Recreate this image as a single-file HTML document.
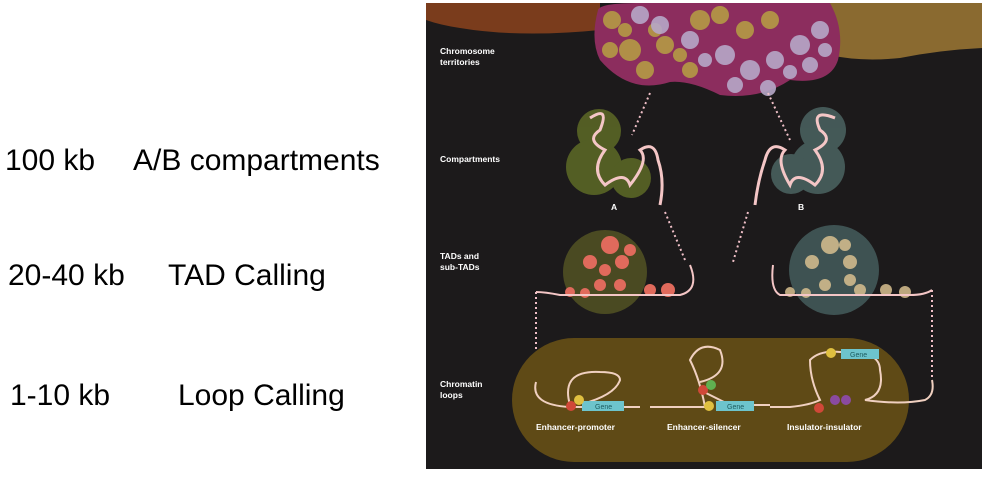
<!DOCTYPE html>
<html><head><meta charset="utf-8"><style>
body{margin:0;width:985px;height:477px;background:#fff;overflow:hidden;position:relative;font-family:"Liberation Sans",sans-serif}
.l{position:absolute;font-size:30px;color:#000;white-space:pre;line-height:1}
</style></head><body>
<div class="l" style="left:5px;top:146px">100 kb</div><div class="l" style="left:133px;top:146px">A/B compartments</div>
<div class="l" style="left:8px;top:261px">20-40 kb</div><div class="l" style="left:168px;top:261px">TAD Calling</div>
<div class="l" style="left:10px;top:381px">1-10 kb</div><div class="l" style="left:178px;top:381px">Loop Calling</div>
<svg style="position:absolute;left:0;top:0" width="985" height="477">
<rect x="426" y="3" width="556" height="466" fill="#1c1a1b"/>
<path d="M426 3 H600 V30 Q520 38 460 28 Q440 25 426 20Z" fill="#7a3c1c"/>
<path d="M830 3 H982 V48 Q940 50 900 58 Q860 62 830 55Z" fill="#8a6a30"/>
<path d="M598 10 Q600 3 640 3 H830 Q845 30 838 60 Q830 85 790 80 Q760 100 720 95 Q690 80 670 82 Q630 95 600 60 Q590 40 598 10Z" fill="#8c2d5e"/>
<g fill="#b59a45" opacity=".9"><circle cx="612" cy="20" r="9"/><circle cx="630" cy="50" r="11"/><circle cx="645" cy="70" r="9"/><circle cx="610" cy="50" r="8"/><circle cx="665" cy="45" r="9"/><circle cx="700" cy="20" r="10"/><circle cx="720" cy="15" r="9"/><circle cx="745" cy="30" r="9"/><circle cx="770" cy="20" r="9"/><circle cx="690" cy="70" r="8"/><circle cx="625" cy="30" r="7"/><circle cx="680" cy="55" r="7"/><circle cx="655" cy="30" r="7"/></g>
<g fill="#b7a8c8" opacity=".9"><circle cx="640" cy="15" r="9"/><circle cx="660" cy="25" r="9"/><circle cx="690" cy="40" r="9"/><circle cx="725" cy="55" r="10"/><circle cx="750" cy="70" r="10"/><circle cx="775" cy="60" r="9"/><circle cx="800" cy="45" r="10"/><circle cx="820" cy="30" r="9"/><circle cx="810" cy="65" r="8"/><circle cx="735" cy="85" r="8"/><circle cx="768" cy="88" r="8"/><circle cx="790" cy="72" r="7"/><circle cx="825" cy="50" r="7"/><circle cx="705" cy="60" r="7"/></g>
<g stroke="#f0c0c8" stroke-width="2" stroke-dasharray="2 3" fill="none"><path d="M650 93 L632 135"/><path d="M768 93 L790 140"/><path d="M665 212 L685 260"/><path d="M748 212 L733 262"/><path d="M536 292 V382"/><path d="M932 290 V380"/></g>
<g opacity=".85"><circle cx="599" cy="131" r="22" fill="#5d6a26"/><circle cx="594" cy="167" r="28" fill="#5d6a26"/><circle cx="631" cy="178" r="20" fill="#5d6a26"/>
<circle cx="823" cy="130" r="23" fill="#4b6462"/><circle cx="818" cy="167" r="27" fill="#4b6462"/><circle cx="791" cy="174" r="20" fill="#4b6462"/></g>
<g stroke="#f4c6c6" stroke-width="3" fill="none"><path d="M590 118 Q610 105 600 130 Q585 140 605 150 Q590 170 605 185 Q625 170 630 185 Q650 160 640 150 Q655 140 658 160 Q665 180 660 205"/>
<path d="M835 118 Q810 108 820 130 Q835 140 815 150 Q830 170 815 185 Q795 170 790 185 Q775 160 785 150 Q770 140 765 160 Q758 180 755 205"/></g>
<circle cx="605" cy="272" r="42" fill="#4a4a22"/><circle cx="834" cy="270" r="45" fill="#3e5252"/>
<g fill="#e06a5c"><circle cx="610" cy="245" r="9"/><circle cx="590" cy="262" r="7"/><circle cx="622" cy="262" r="7"/><circle cx="600" cy="285" r="6"/><circle cx="620" cy="285" r="6"/><circle cx="570" cy="292" r="5"/><circle cx="585" cy="293" r="5"/><circle cx="650" cy="290" r="6"/><circle cx="668" cy="290" r="7"/><circle cx="630" cy="250" r="6"/><circle cx="605" cy="270" r="6"/></g>
<g fill="#d8c090" opacity=".85"><circle cx="830" cy="245" r="9"/><circle cx="812" cy="262" r="7"/><circle cx="850" cy="262" r="7"/><circle cx="825" cy="285" r="6"/><circle cx="850" cy="280" r="6"/><circle cx="790" cy="292" r="5"/><circle cx="806" cy="293" r="5"/><circle cx="886" cy="290" r="6"/><circle cx="905" cy="292" r="6"/><circle cx="845" cy="245" r="6"/><circle cx="860" cy="290" r="6"/></g>
<g stroke="#f4c6c6" stroke-width="2" fill="none"><path d="M536 292 Q545 292 560 295 H680 Q700 290 690 265"/><path d="M932 290 Q925 295 910 295 H780 Q770 290 773 265"/></g>
<rect x="512" y="338" width="397" height="124" rx="62" fill="#5f4a16"/>
<g stroke="#f0d0c0" stroke-width="2" fill="none"><path d="M536 382 Q530 405 570 407 H640"/><path d="M570 405 Q560 370 600 372 Q620 372 620 380 Q615 395 582 404"/>
<path d="M650 407 H705 Q700 380 690 360 Q700 340 720 350 Q730 375 700 382"/><path d="M700 390 L730 405 H770"/>
<path d="M770 407 H790 Q810 405 820 400 Q810 380 810 360 Q820 350 840 352 Q880 350 880 370 Q885 395 865 400 Q900 405 925 400 Q935 395 932 380"/></g>
<g fill="#6dc4cc"><rect x="582" y="401" width="42" height="10"/><rect x="716" y="401" width="38" height="10"/><rect x="841" y="349" width="38" height="10"/></g>
<g font-size="7" fill="#1c5c60" font-family="Liberation Sans"><text x="595" y="409">Gene</text><text x="727" y="409">Gene</text><text x="850" y="357">Gene</text></g>
<circle cx="571" cy="406" r="5" fill="#d04838"/><circle cx="579" cy="400" r="5" fill="#e0c040"/>
<circle cx="703" cy="390" r="5" fill="#d04838"/><circle cx="711" cy="385" r="5" fill="#60b050"/><circle cx="709" cy="406" r="5" fill="#e0c040"/>
<circle cx="831" cy="353" r="5" fill="#e0c040"/><circle cx="819" cy="408" r="5" fill="#d04838"/><circle cx="835" cy="400" r="5" fill="#8a4aa0"/><circle cx="846" cy="400" r="5" fill="#8a4aa0"/>
<g fill="#fff" font-family="Liberation Sans" font-size="8.5" font-weight="bold">
<text x="440" y="54">Chromosome</text><text x="440" y="65">territories</text>
<text x="440" y="162">Compartments</text>
<text x="440" y="259">TADs and</text><text x="440" y="270">sub-TADs</text>
<text x="440" y="387">Chromatin</text><text x="440" y="398">loops</text>
<text x="611" y="210">A</text><text x="798" y="210">B</text>
<text x="536" y="430">Enhancer-promoter</text><text x="667" y="430">Enhancer-silencer</text><text x="787" y="430">Insulator-insulator</text></g>
</svg>
</body></html>
